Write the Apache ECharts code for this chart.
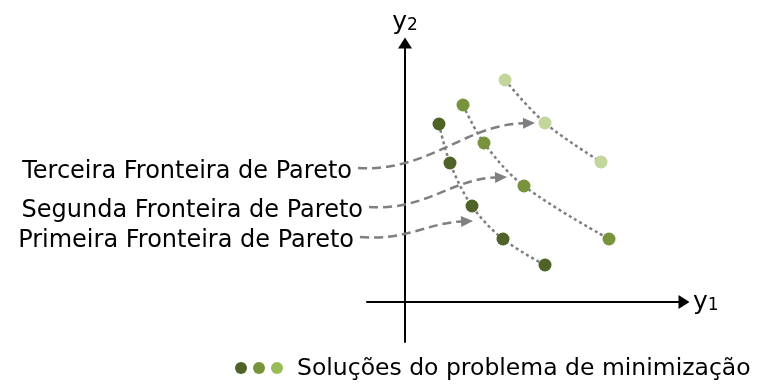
<!DOCTYPE html>
<html>
<head>
<meta charset="utf-8">
<script src="https://cdn.jsdelivr.net/npm/echarts@6/dist/echarts.min.js"></script>
<style>
  html, body { margin: 0; padding: 0; background: #fff; }
  #chart { width: 760px; height: 385px; }
</style>
</head>
<body>
<div id="chart"></div>
<script>
// fronts of solutions (y1, y2)
const front1 = [[3.4, 17.8], [4.5, 13.9], [6.7, 9.6], [9.8, 6.3], [14.0, 3.7]];
const front2 = [[5.8, 19.7], [7.9, 15.9], [11.9, 11.6], [20.4, 6.3]];
const front3 = [[10.0, 22.2], [14.0, 17.9], [19.6, 14.0]];

// annotation arrows: label, from, to
const arrowLabels = ["Terceira Fronteira de Pareto", "Segunda Fronteira de Pareto", "Primeira Fronteira de Pareto"];
const arrowFrom = [[-4.7, 13.4], [-3.6, 9.5], [-4.5, 6.5]];
const arrowTo = [[13.0, 17.9], [10.2, 12.5], [6.8, 8.1]];

const legendText = "Soluções do problema de minimização";
const legendColors = ["#4f6228", "#77933c", "#9bbb59"];
const frontColors = ["#4f6228", "#77933c", "#c3d69b"];

const FONT = "DejaVu Sans";
const GRAY = "#7f7f7f";

const chart = echarts.init(document.getElementById("chart"));

function axisCommon() {
  return {
    type: "value",
    splitLine: { show: false },
    axisTick: { show: false },
    axisLabel: { show: false },
    axisLine: {
      show: true,
      onZero: true,
      symbol: ["none", "triangle"],
      symbolSize: [14, 11],
      lineStyle: { color: "#000", width: 2 },
    },
    nameTextStyle: {
      color: "#000",
      rich: {
        a: { fontFamily: FONT, fontSize: 25, color: "#000" },
        b: { fontFamily: FONT, fontSize: 17, color: "#000", padding: [7, 0, 0, 0] },
      },
    },
  };
}

function frontLine(data) {
  return {
    type: "line",
    data,
    smooth: 0.35,
    showSymbol: false,
    silent: true,
    z: 1,
    lineStyle: { color: GRAY, width: 2.5, type: [3, 3] },
  };
}

function frontDots(data, color) {
  return {
    type: "scatter",
    data,
    symbolSize: 13,
    silent: true,
    z: 3,
    itemStyle: { color, opacity: 1 },
  };
}

function renderArrow(params, api) {
  const s = api.coord([api.value(0), api.value(1)]);
  const e = api.coord([api.value(2), api.value(3)]);
  const dx = e[0] - s[0];
  const c1 = [s[0] + dx * 0.4, s[1] + 4];
  const c2 = [e[0] - dx * 0.4, e[1] + 2];
  const ang = Math.atan2(e[1] - c2[1], e[0] - c2[0]);
  const head = 12;
  const half = 5.5;
  const cos = Math.cos(ang);
  const sin = Math.sin(ang);
  const b = [e[0] - head * cos, e[1] - head * sin];
  return {
    type: "group",
    children: [
      {
        type: "bezierCurve",
        shape: { x1: s[0], y1: s[1], cpx1: c1[0], cpy1: c1[1], cpx2: c2[0], cpy2: c2[1], x2: b[0], y2: b[1] },
        style: { fill: "none", stroke: GRAY, lineWidth: 2.5, lineDash: [9, 5] },
      },
      {
        type: "polygon",
        shape: { points: [e, [b[0] + half * sin, b[1] - half * cos], [b[0] - half * sin, b[1] + half * cos]] },
        style: { fill: GRAY },
      },
      {
        type: "text",
        x: s[0] - 6,
        y: s[1] + 4,
        style: {
          text: arrowLabels[params.dataIndex],
          align: "right",
          verticalAlign: "middle",
          font: `24px "${FONT}"`,
          fill: "#000",
        },
      },
    ],
  };
}

const legendGraphics = legendColors.map((c, i) => ({
  type: "circle",
  shape: { cx: 241 + i * 18, cy: 368, r: 6 },
  style: { fill: c },
}));
legendGraphics.push({
  type: "text",
  x: 297,
  y: 369,
  style: { text: legendText, font: `23.5px "${FONT}"`, fill: "#000", verticalAlign: "middle" },
});

chart.setOption({
  animation: false,
  backgroundColor: "#fff",
  grid: { left: 367, right: 76, top: 43, bottom: 43, containLabel: false },
  xAxis: Object.assign(axisCommon(), {
    min: -3.8,
    max: 27.9,
    name: "{a|y}{b|1}",
    nameLocation: "end",
    nameGap: 9,
  }),
  yAxis: Object.assign(axisCommon(), {
    min: -4,
    max: 25.9,
    name: "{a|y}{b|2}",
    nameLocation: "end",
    nameGap: 8,
  }),
  series: [
    frontLine(front1),
    frontLine(front2),
    frontLine(front3),
    {
      type: "custom",
      renderItem: renderArrow,
      data: arrowFrom.map((f, i) => [f[0], f[1], arrowTo[i][0], arrowTo[i][1]]),
      encode: { x: [0, 2], y: [1, 3] },
      clip: false,
      silent: true,
      z: 2,
    },
    frontDots(front1, frontColors[0]),
    frontDots(front2, frontColors[1]),
    frontDots(front3, frontColors[2]),
  ],
  graphic: legendGraphics,
});
</script>
</body>
</html>
